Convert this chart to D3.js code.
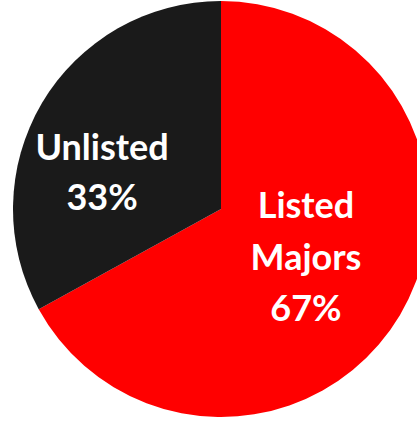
<!DOCTYPE html>
<html>
<head>
<meta charset="utf-8">
<script src="https://cdn.jsdelivr.net/npm/d3@7"></script>
<style>
  html, body { margin: 0; padding: 0; background: #fff; }
  svg { display: block; }
</style>
</head>
<body>
<svg id="chart" width="417" height="422"></svg>
<script>
const categories = ["Listed Majors", "Unlisted"];
const values = [67, 33];
const labelLines = [["Listed", "Majors", "67%"], ["Unlisted", "33%"]];
const colors = ["#ff0000", "#1a1a1a"];

const W = 417, H = 422;
const cx = 221, cy = 209, R = 208;
// first-baseline anchor of each label, relative to pie center, and line spacing
const labelPos = [[85, 9], [-119, -49]];
const lineH = [51.5, 50];
const fontSize = 36;

const svg = d3.select("#chart");
const g = svg.append("g").attr("transform", `translate(${cx},${cy})`);

const pie = d3.pie().sort(null).value(d => d.value);
const arcs = pie(categories.map((c, i) => ({ name: c, value: values[i], i })));
const arc = d3.arc().innerRadius(0).outerRadius(R);

g.selectAll("path.slice")
  .data(arcs)
  .enter().append("path")
  .attr("class", "slice")
  .attr("d", arc)
  .attr("fill", d => colors[d.data.i]);

arcs.forEach(d => {
  const i = d.data.i;
  const lines = labelLines[i];
  const [lx, ly] = labelPos[i];
  const t = g.append("text")
    .attr("text-anchor", "middle")
    .attr("fill", "#ffffff")
    .attr("font-family", "Lato, 'Open Sans', sans-serif")
    .attr("font-weight", "bold")
    .attr("font-size", fontSize);
  lines.forEach((ln, k) => {
    t.append("tspan")
      .attr("x", lx)
      .attr("y", ly + k * lineH[i])
      .text(ln);
  });
});
</script>
</body>
</html>
